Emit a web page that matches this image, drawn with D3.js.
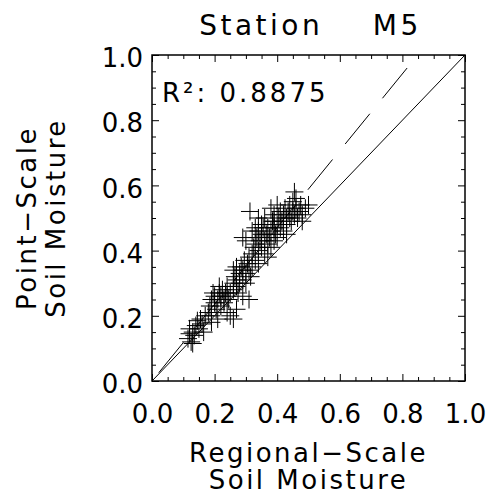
<!DOCTYPE html>
<html lang="en">
<head>
	<meta charset="UTF-8">
	<title>Station M5</title>
	<script src="https://cdn.jsdelivr.net/npm/d3@7/dist/d3.min.js"></script>
	<style>
		body { margin: 0; background: #fff; }
		text { font-family: "DejaVu Sans", sans-serif; fill: #000; }
	</style>
</head>
<body>
	<div id="container"></div>
	<script>
		var width = 490;
		var height = 498;
		var margin = {top: 55, right: 25, bottom: 117, left: 152};
		var w = width - margin.left - margin.right;
		var h = height - margin.top - margin.bottom;

		// data: [regional, point]
		var title = "Station    M5";
		var xTitle = ["Regional\u2212Scale", "Soil Moisture"];
		var yTitle = ["Point\u2212Scale", "Soil Moisture"];
		var r2Label = "R\u00b2: 0.8875";
		var majorTicks = [0.0, 0.2, 0.4, 0.6, 0.8, 1.0];
		var minorTicks = [0.05, 0.1, 0.15, 0.25, 0.3, 0.35, 0.45, 0.5, 0.55, 0.65, 0.7, 0.75, 0.85, 0.9, 0.95];
		var oneToOne = [[0, 0], [1, 1]];
		var fitLine = [[0.815, 0.96], [0, 0]];

		var points = [
			[0.115,0.13],[0.12,0.145],[0.125,0.12],[0.13,0.15],[0.12,0.16],[0.135,0.14],[0.14,0.17],
			[0.15,0.16],[0.155,0.19],[0.145,0.185],[0.16,0.175],[0.13,0.115],[0.17,0.2],[0.165,0.15],
			[0.18,0.21],[0.185,0.23],[0.19,0.2],[0.2,0.24],[0.2,0.26],[0.205,0.22],[0.21,0.25],
			[0.215,0.27],[0.22,0.23],[0.22,0.26],[0.225,0.28],[0.23,0.25],[0.23,0.24],[0.235,0.27],
			[0.24,0.26],[0.24,0.29],[0.245,0.25],[0.25,0.27],[0.19,0.25],[0.21,0.19],[0.25,0.2],
			[0.26,0.19],[0.19,0.18],[0.24,0.21],[0.27,0.22],[0.195,0.27],[0.215,0.29],
			[0.26,0.28],[0.26,0.3],[0.265,0.32],[0.27,0.29],[0.27,0.31],[0.275,0.27],[0.28,0.3],
			[0.28,0.33],[0.285,0.35],[0.29,0.31],[0.29,0.34],[0.295,0.37],[0.3,0.33],[0.3,0.3],
			[0.305,0.36],[0.31,0.34],[0.31,0.38],[0.315,0.32],[0.32,0.35],[0.32,0.39],[0.325,0.41],
			[0.33,0.37],[0.26,0.34],[0.27,0.35],[0.31,0.25],[0.29,0.26],
			[0.33,0.42],[0.335,0.44],[0.34,0.4],[0.34,0.46],[0.345,0.43],[0.35,0.41],[0.35,0.45],
			[0.35,0.48],[0.355,0.47],[0.36,0.43],[0.36,0.39],[0.365,0.45],[0.37,0.42],[0.37,0.47],
			[0.375,0.44],[0.38,0.41],[0.38,0.46],[0.385,0.49],[0.39,0.43],[0.39,0.47],[0.395,0.45],
			[0.4,0.44],[0.4,0.48],[0.29,0.44],[0.3,0.43],[0.32,0.46],[0.33,0.47],[0.34,0.36],
			[0.37,0.38],[0.36,0.5],[0.34,0.5],[0.39,0.51],
			[0.405,0.5],[0.41,0.47],[0.41,0.52],[0.415,0.49],[0.42,0.51],[0.42,0.46],[0.425,0.53],
			[0.43,0.5],[0.43,0.48],[0.435,0.52],[0.44,0.54],[0.44,0.5],[0.445,0.49],[0.45,0.52],
			[0.45,0.55],[0.455,0.51],[0.46,0.53],[0.46,0.56],[0.465,0.5],[0.47,0.52],[0.475,0.54],
			[0.48,0.51],[0.49,0.53],[0.5,0.54],[0.455,0.58],[0.38,0.53],[0.4,0.54],[0.43,0.45],
			[0.48,0.49],[0.39,0.49],[0.313,0.52]
		];

		var svg = d3.select("#container").append("svg")
				.attr("width", width)
				.attr("height", height);

		var g = svg.append("g")
				.attr("transform", "translate(" + margin.left + "," + margin.top + ")");

		var x = d3.scaleLinear().domain([0, 1]).range([0, w]);
		var y = d3.scaleLinear().domain([0, 1]).range([h, 0]);

		// ticks on all four sides, pointing in
		function drawAxis(gen, tx, ty, vals, size, labelled) {
			var a = g.append("g")
					.attr("transform", "translate(" + tx + "," + ty + ")")
					.call(gen.tickValues(vals).tickSize(-size)
						.tickFormat(labelled ? d3.format(".1f") : ""));
			a.select(".domain").remove();
			a.selectAll("line").attr("stroke", "#000").attr("stroke-width", 1);
			a.attr("font-size", 26).attr("font-family", "DejaVu Sans");
			return a;
		}

		drawAxis(d3.axisBottom(x).tickPadding(24), 0, h, majorTicks, 7, true);
		drawAxis(d3.axisBottom(x), 0, h, minorTicks, 4, false);
		drawAxis(d3.axisTop(x), 0, 0, majorTicks, 7, false);
		drawAxis(d3.axisTop(x), 0, 0, minorTicks, 4, false);
		var yl = drawAxis(d3.axisLeft(y).tickPadding(9), 0, 0, majorTicks, 7, true);
		drawAxis(d3.axisLeft(y), 0, 0, minorTicks, 4, false);
		drawAxis(d3.axisRight(y), w, 0, majorTicks, 7, false);
		drawAxis(d3.axisRight(y), w, 0, minorTicks, 4, false);
		yl.selectAll("text").attr("dy", "0.45em");

		g.append("rect")
			.attr("x", 0).attr("y", 0)
			.attr("width", w).attr("height", h)
			.attr("fill", "none")
			.attr("stroke", "#000")
			.attr("stroke-width", 1.5);

		var line = d3.line().x(d => x(d[0])).y(d => y(d[1]));

		g.append("path")
			.attr("d", line(oneToOne))
			.attr("fill", "none")
			.attr("stroke", "#000")
			.attr("stroke-width", 1);

		g.append("path")
			.attr("d", line(fitLine))
			.attr("fill", "none")
			.attr("stroke", "#000")
			.attr("stroke-width", 1)
			.attr("stroke-dasharray", "39,20");

		g.selectAll(".pt").data(points)
			.enter().append("path")
				.attr("class", "pt")
				.attr("transform", d => "translate(" + x(d[0]) + "," + y(d[1]) + ")")
				.attr("d", "M-9,0H9M0,-9V9")
				.attr("stroke", "#000")
				.attr("stroke-width", 1);

		g.append("text")
			.attr("x", 10)
			.attr("y", 47)
			.attr("font-size", 26)
			.attr("letter-spacing", 3)
			.text(r2Label);

		svg.append("text")
			.attr("x", margin.left + w / 2 + 2)
			.attr("y", 35)
			.attr("text-anchor", "middle")
			.attr("font-size", 28)
			.attr("letter-spacing", 3.5)
			.attr("xml:space", "preserve")
			.style("white-space", "pre")
			.text(title);

		svg.selectAll(".xtitle").data(xTitle)
			.enter().append("text")
				.attr("x", margin.left + w / 2)
				.attr("y", (d, i) => margin.top + h + 81 + i * 27)
				.attr("text-anchor", "middle")
				.attr("font-size", 26)
				.attr("letter-spacing", 2.5)
				.text(d => d);

		svg.selectAll(".ytitle").data(yTitle)
			.enter().append("text")
				.attr("transform", (d, i) => "translate(" + (36 + i * 29) + "," + (margin.top + h / 2) + ") rotate(-90)")
				.attr("text-anchor", "middle")
				.attr("font-size", 26)
				.attr("letter-spacing", 2.5)
				.text(d => d);
	</script>
</body>
</html>
